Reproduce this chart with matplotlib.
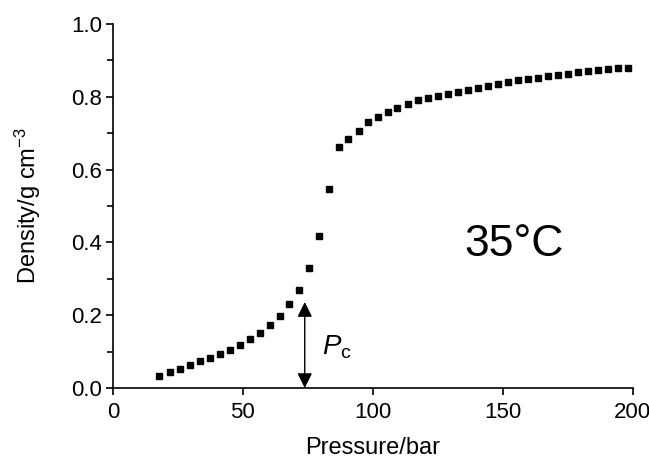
import numpy as np
import matplotlib.pyplot as plt

plt.rcParams['font.family'] = ['Liberation Sans', 'DejaVu Sans']
plt.rcParams['mathtext.fontset'] = 'custom'
plt.rcParams['mathtext.rm'] = 'Liberation Sans'
plt.rcParams['mathtext.it'] = 'Liberation Sans:italic'

# CO2 density at 35 C
pressure = [17.8, 21.9, 25.8, 29.6, 33.5, 37.3, 41.2, 45.0, 48.8, 52.7,
            56.5, 60.4, 64.2, 67.8, 71.7, 75.5, 79.3, 83.2, 86.8, 90.6,
            94.5, 98.1, 101.9, 105.8, 109.4, 113.6, 117.4, 121.2, 125.0, 128.8,
            132.7, 136.5, 140.4, 144.2, 148.1, 151.9, 155.8, 159.6, 163.5, 167.3,
            171.2, 175.0, 178.8, 182.7, 186.5, 190.4, 194.2, 198.3]
density = [0.034, 0.043, 0.053, 0.062, 0.073, 0.083, 0.094, 0.105, 0.118, 0.134,
           0.150, 0.173, 0.199, 0.230, 0.269, 0.329, 0.418, 0.547, 0.662, 0.685,
           0.707, 0.731, 0.745, 0.757, 0.768, 0.780, 0.790, 0.796, 0.803, 0.809,
           0.814, 0.820, 0.825, 0.830, 0.835, 0.840, 0.845, 0.848, 0.852, 0.856,
           0.859, 0.863, 0.867, 0.870, 0.873, 0.876, 0.878, 0.880]
p_crit = 73.8
arrow_top = 0.236

fig = plt.figure(figsize=(6.49, 4.59), dpi=100)
ax = fig.add_axes([0.174, 0.1547, 0.801, 0.793])

ax.plot(pressure, density, 's', color='black', markersize=5, clip_on=False)

ax.annotate('', xy=(p_crit, 0), xytext=(p_crit, arrow_top),
            arrowprops=dict(arrowstyle='<|-|>,head_length=0.6,head_width=0.3',
                            color='black', lw=1, mutation_scale=15,
                            shrinkA=0, shrinkB=0))
ax.text(80.4, 0.091, r'$P_{\mathrm{c}}$', fontsize=20, ha='left', va='baseline')
ax.text(154.4, 0.362, '35°C', fontsize=32, ha='center', va='baseline')

ax.set_xlim(0, 200)
ax.set_ylim(0, 1.0)
ax.set_xticks([0, 50, 100, 150, 200])
ax.set_yticks([0.0, 0.2, 0.4, 0.6, 0.8, 1.0])
ax.set_yticks(np.arange(0.1, 1.0, 0.2), minor=True)
ax.set_yticklabels(['0.0', '0.2', '0.4', '0.6', '0.8', '1.0'])

for s in ['top', 'right']:
    ax.spines[s].set_visible(False)
for s in ['left', 'bottom']:
    ax.spines[s].set_linewidth(1.2)

ax.tick_params(axis='both', which='major', direction='out', length=5, width=1.2,
               labelsize=16, pad=3)
ax.tick_params(axis='x', which='major', pad=5)
ax.tick_params(axis='y', which='minor', direction='out', length=4, width=1.2)

ax.set_xlabel('Pressure/bar', fontsize=17, labelpad=10)
ax.set_ylabel(r'Density/g cm$^{-3}$', fontsize=17, labelpad=20)

fig.savefig('out.png', dpi=100)
